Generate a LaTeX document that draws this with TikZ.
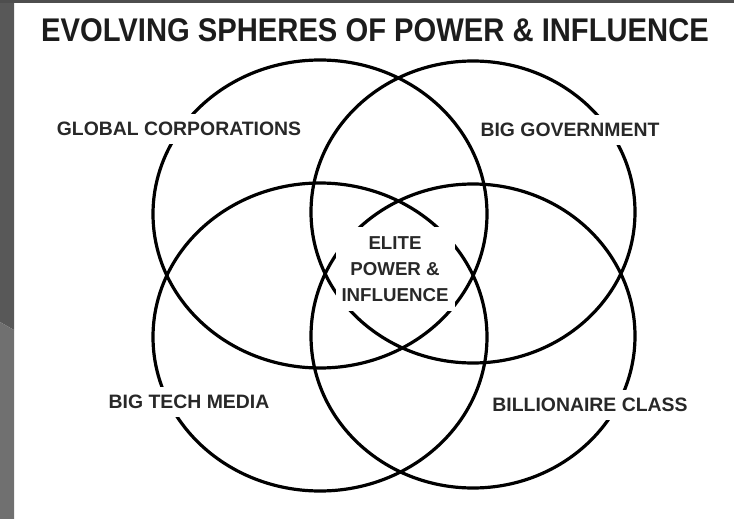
\documentclass[tikz,border=0pt]{standalone}
\usepackage{fontspec}
\setmainfont{Liberation Sans}
\newfontfamily\titlefont[FakeStretch=0.89]{Liberation Sans}
\usetikzlibrary{shapes.geometric}
\definecolor{stripup}{RGB}{88,88,88}
\definecolor{striplow}{RGB}{112,112,112}
\definecolor{topbar}{RGB}{78,78,78}
\definecolor{labelgray}{RGB}{40,40,40}
\definecolor{titlegray}{RGB}{28,28,28}
\tikzset{
  sphere/.style={draw=black, line width=3.2pt, ellipse, inner sep=0pt, fill=none},
  sphlabel/.style={fill=white, text=labelgray, inner xsep=6pt, inner ysep=8pt,
    font=\fontsize{19.4}{23}\selectfont\bfseries},
  corelabel/.style={fill=white, text=labelgray, inner xsep=6pt, inner ysep=10pt, align=center,
    font=\fontsize{18.7}{25.8}\selectfont\bfseries},
  titlestyle/.style={text=titlegray, inner sep=0pt, font=\titlefont\fontsize{32.8}{36}\selectfont\bfseries}
}
\begin{document}
\begin{tikzpicture}[x=1pt,y=-1pt]
\useasboundingbox (0,0) rectangle (734,519);
\fill[white] (0,0) rectangle (734,519);
% left strip and top bar
\fill[stripup] (0,0) -- (14,0) -- (14,330) -- (0,322) -- cycle;
\fill[striplow] (0,322) -- (14,330) -- (14,519) -- (0,519) -- cycle;
\fill[topbar] (0,0) rectangle (734,3.5);
% title
\node[titlestyle] (title) at (375,30) {EVOLVING SPHERES OF POWER \& INFLUENCE};
% spheres
\node[sphere, minimum width=334pt, minimum height=308pt] (corp) at (320,214) {};
\node[sphere, minimum width=324pt, minimum height=302pt] (gov) at (473,212) {};
\node[sphere, minimum width=334pt, minimum height=308pt] (tech) at (320,337) {};
\node[sphere, minimum width=324pt, minimum height=304pt] (bill) at (473,336) {};
% labels
\node[sphlabel] (lcorp) at (179,129) {GLOBAL CORPORATIONS};
\node[sphlabel] (lgov) at (570,130) {BIG GOVERNMENT};
\node[sphlabel] (ltech) at (189,402) {BIG TECH MEDIA};
\node[sphlabel] (lbill) at (590,405) {BILLIONAIRE CLASS};
\node[corelabel] (core) at (395,269) {ELITE\\POWER \&\\INFLUENCE};
\end{tikzpicture}
\end{document}
